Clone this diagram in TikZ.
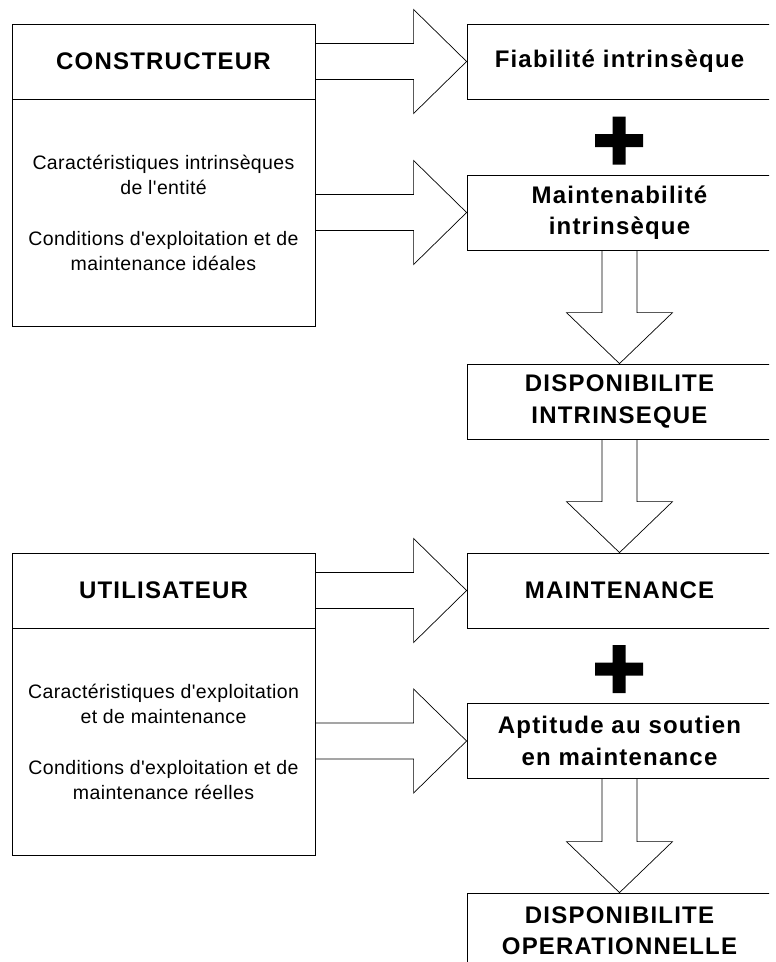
\documentclass[tikz,border=0pt]{standalone}
\usepackage{fontspec}
\setmainfont{Liberation Sans}
\newfontfamily\headfont[LetterSpace=5]{Liberation Sans}
\newfontfamily\bodyfont[LetterSpace=2]{Liberation Sans}
\usetikzlibrary{calc}

\tikzset{
  box/.style={draw, line width=0.8pt, inner sep=0pt, align=center},
  lefthead/.style={box, minimum width=303pt, minimum height=75pt,
    font=\headfont\bfseries\fontsize{24}{31.5}\selectfont},
  leftbody/.style={box, minimum width=303pt, minimum height=227pt,
    font=\bodyfont\fontsize{19.5}{25}\selectfont},
  rightbox/.style={box, minimum width=305pt, minimum height=75pt,
    font=\headfont\bfseries\fontsize{24}{31.5}\selectfont},
  hollow/.style={draw, line width=0.7pt, line join=miter},
}

% big hollow arrows, from node to node
\newcommand\harrow[2]{%
  \draw[hollow] let \p1=(#1.east), \p2=(#2.west) in
    (\x1,\y2+18pt) -- (\x2-53pt,\y2+18pt) -- (\x2-53pt,\y2+52pt) -- (\x2,\y2)
    -- (\x2-53pt,\y2-52pt) -- (\x2-53pt,\y2-18pt) -- (\x1,\y2-18pt);}
\newcommand\varrow[2]{%
  \draw[hollow] let \p1=(#1.south), \p2=(#2.north) in
    (\x2-17.5pt,\y1) -- (\x2-17.5pt,\y2+51pt) -- (\x2-53pt,\y2+51pt) -- (\x2,\y2)
    -- (\x2+53pt,\y2+51pt) -- (\x2+17.5pt,\y2+51pt) -- (\x2+17.5pt,\y1);}
\newcommand\plussign[1]{%
  \fill (#1) +(-24,-6.5) rectangle +(24,6.5) (#1) +(-6.5,-24) rectangle +(6.5,24);}

\begin{document}
\begin{tikzpicture}[x=1pt,y=-1pt]

\useasboundingbox (0,0) rectangle (776,962);
\clip (0,0) rectangle (769,962);

% left side
\node[lefthead] (cons) at (163.5,61.5) {CONSTRUCTEUR};
\node[leftbody] (consbody) at (163.5,212.5)
  {Caractéristiques intrinsèques\\de l'entité\\[26pt]Conditions d'exploitation et de\\maintenance idéales};
\node[lefthead] (util) at (163.5,590.5) {UTILISATEUR};
\node[leftbody] (utilbody) at (163.5,741.5)
  {Caractéristiques d'exploitation\\et de maintenance\\[26pt]Conditions d'exploitation et de\\maintenance réelles};

% right side
\node[rightbox] (fiab) at (619.5,61.5) {Fiabilité intrinsèque};
\node[rightbox] (maint) at (619.5,212.5) {Maintenabilité\\intrinsèque};
\node[rightbox] (dispi) at (619.5,401.5) {DISPONIBILITE\\INTRINSEQUE};
\node[rightbox] (mnt) at (619.5,590.5) {MAINTENANCE};
\node[rightbox] (apt) at (619.5,741) {Aptitude au soutien\\en maintenance};
\node[rightbox] (dispo) at (619.5,930.5) {DISPONIBILITE\\OPERATIONNELLE};

\harrow{cons}{fiab}
\harrow{consbody}{maint}
\harrow{util}{mnt}
\harrow{utilbody}{apt}

\varrow{maint}{dispi}
\varrow{dispi}{mnt}
\varrow{apt}{dispo}

\coordinate (plusA) at (619,140.5);
\coordinate (plusB) at (619,669);
\plussign{plusA}
\plussign{plusB}

\end{tikzpicture}
\end{document}
